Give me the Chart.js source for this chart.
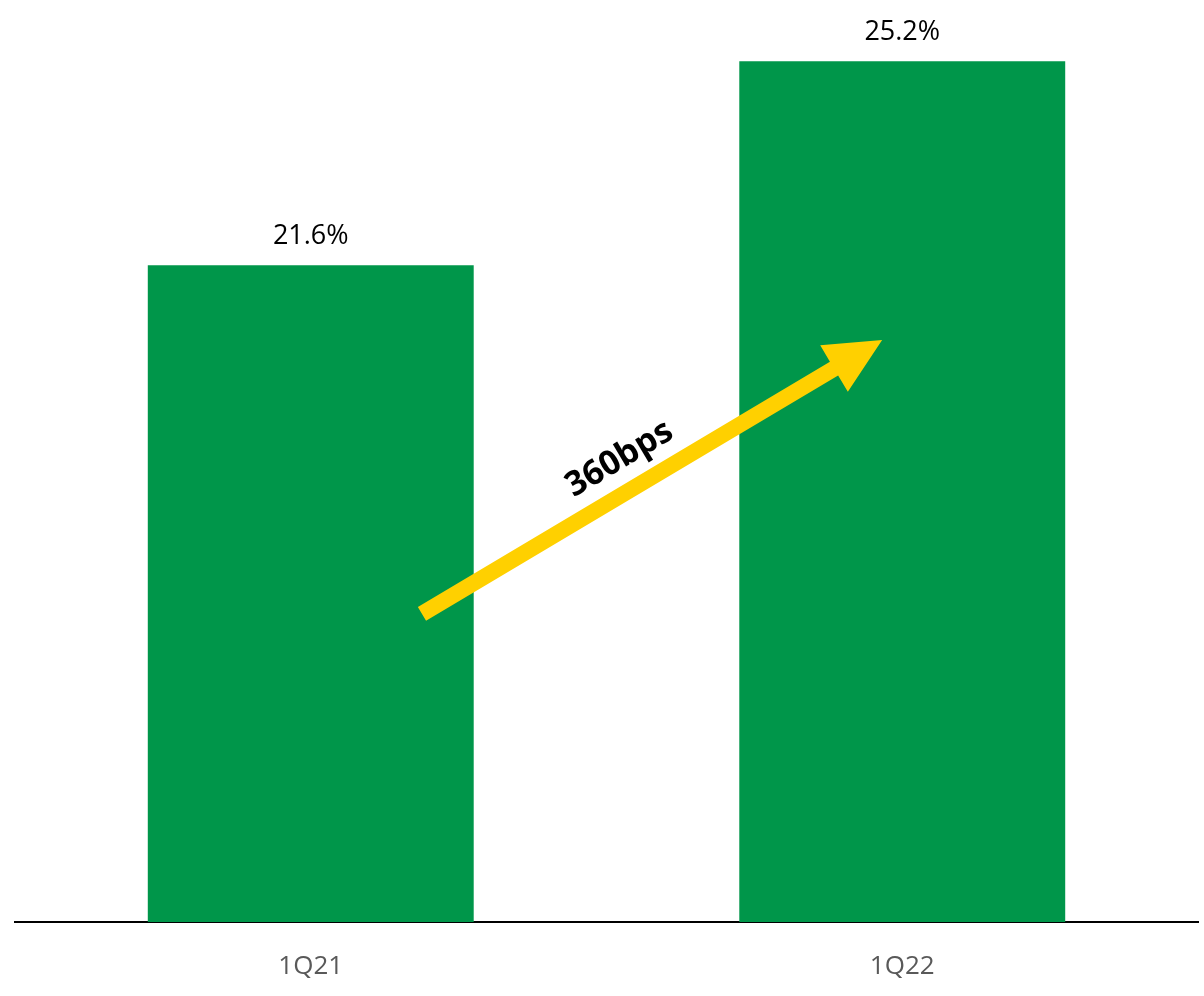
<!DOCTYPE html>
<html lang="en">
<head>
    <meta charset="UTF-8">
    <title>Margin 1Q21 vs 1Q22</title>
    <script src="https://cdn.jsdelivr.net/npm/chart.js"></script>
    <style>
        html, body {
            margin: 0;
            padding: 0;
            background: #fff;
        }
        #wrap {
            width: 1204px;
            height: 996px;
        }
    </style>
</head>
<body>
    <div id="wrap">
        <canvas id="marginChart"></canvas>
    </div>

    <script>
        // quarters and margin values (%)
        const quarters = ['1Q21', '1Q22'];
        const margins = [21.6, 25.2];
        const valueLabels = ['21.6%', '25.2%'];

        // growth arrow, in data space: [category index, value]
        const arrowFrom = [0.188, 15.44];
        const arrowTo = [0.966, 20.28];
        const arrowText = '360bps';

        const green = '#00964A';
        const yellow = '#FFD000';

        // value labels above each bar
        const barLabels = {
            id: 'barLabels',
            afterDatasetsDraw(chart) {
                const ctx = chart.ctx;
                const meta = chart.getDatasetMeta(0);
                ctx.save();
                ctx.font = '27px "Open Sans"';
                ctx.fillStyle = '#000';
                ctx.textAlign = 'center';
                ctx.textBaseline = 'alphabetic';
                meta.data.forEach((bar, i) => {
                    ctx.fillText(valueLabels[i], bar.x, bar.y - 21);
                });
                ctx.restore();
            }
        };

        // yellow arrow with rotated label
        const growthArrow = {
            id: 'growthArrow',
            afterDatasetsDraw(chart) {
                const ctx = chart.ctx;
                const x = chart.scales.x;
                const y = chart.scales.y;
                const x0 = x.getPixelForValue(arrowFrom[0]);
                const y0 = y.getPixelForValue(arrowFrom[1]);
                const x1 = x.getPixelForValue(arrowTo[0]);
                const y1 = y.getPixelForValue(arrowTo[1]);
                const ang = Math.atan2(y1 - y0, x1 - x0);
                const len = Math.hypot(x1 - x0, y1 - y0);
                const headLen = 56;
                const headHalf = 27;
                const shaft = 8;

                ctx.save();
                ctx.translate(x0, y0);
                ctx.rotate(ang);
                ctx.fillStyle = yellow;
                ctx.beginPath();
                ctx.moveTo(0, -shaft);
                ctx.lineTo(len - headLen, -shaft);
                ctx.lineTo(len - headLen, -headHalf);
                ctx.lineTo(len, 0);
                ctx.lineTo(len - headLen, headHalf);
                ctx.lineTo(len - headLen, shaft);
                ctx.lineTo(0, shaft);
                ctx.closePath();
                ctx.fill();

                // label sits above the shaft
                ctx.font = 'bold 34px "Open Sans"';
                ctx.fillStyle = '#000';
                ctx.textAlign = 'center';
                ctx.textBaseline = 'middle';
                ctx.fillText(arrowText, len * 0.465, -32);
                ctx.restore();
            }
        };

        new Chart(document.getElementById('marginChart'), {
            type: 'bar',
            data: {
                labels: quarters,
                datasets: [{
                    data: margins,
                    backgroundColor: green,
                    borderWidth: 0,
                    barPercentage: 0.551,
                    categoryPercentage: 1
                }]
            },
            options: {
                responsive: true,
                maintainAspectRatio: false,
                animation: false,
                layout: {
                    padding: { top: 16, left: 15, right: 6, bottom: 0 }
                },
                plugins: {
                    legend: { display: false },
                    tooltip: { enabled: false }
                },
                scales: {
                    x: {
                        grid: { display: false, drawTicks: false },
                        border: { display: true, color: '#000', width: 2 },
                        ticks: {
                            color: '#595959',
                            font: { family: '"Open Sans"', size: 26 },
                            padding: 29
                        },
                        afterFit(scale) {
                            scale.height = 74;
                        }
                    },
                    y: {
                        display: false,
                        min: 10,
                        max: 26
                    }
                }
            },
            plugins: [barLabels, growthArrow]
        });
    </script>
</body>
</html>
